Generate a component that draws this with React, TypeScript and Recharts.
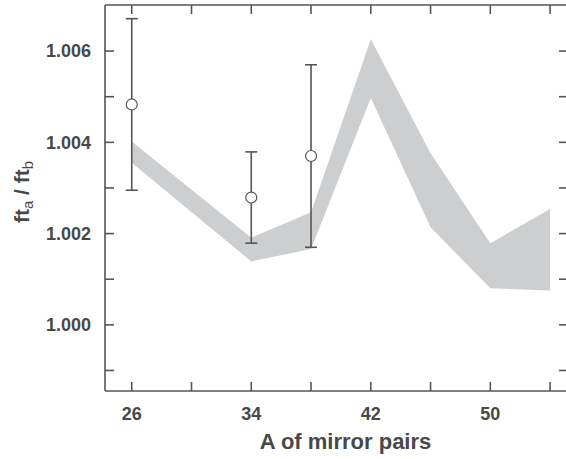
import React from "react";
import { ComposedChart, Area, Scatter, ErrorBar, XAxis, YAxis } from "recharts";

// mirror pair mass numbers where the calculated band is defined
const bandA = [26, 34, 38, 42, 46, 50, 54];
const bandLow = [1.00355, 1.00139, 1.00166, 1.00497, 1.00214, 1.0008, 1.00075];
const bandHigh = [1.00402, 1.00191, 1.00247, 1.00626, 1.00376, 1.00179, 1.00254];

// measured ratios with errors
const pointA = [26, 34, 38];
const pointValue = [1.00483, 1.00279, 1.0037];
const pointErr = [0.00188, 0.001, 0.002];

const xTicks = [26, 30, 34, 38, 42, 46, 50, 54];
const xLabelled = [26, 34, 42, 50];
const yTicks = [0.999, 1.0, 1.001, 1.002, 1.003, 1.004, 1.005, 1.006];

const bandData = bandA.map((a, i) => ({ a, band: [bandLow[i], bandHigh[i]] }));
const pointData = pointA.map((a, i) => ({ a, v: pointValue[i], err: pointErr[i] }));

const INK = "#484848";
const AXIS = "#555";
const FONT = "'Liberation Sans', Arial, sans-serif";

const xDomain = [24.21, 55.2];
const yDomain = [0.99855, 1.00701];

// plot box, same as the chart margins/axis sizes below
const W = 566;
const H = 459;
const LEFT = 105;
const TOP = 5;
const RIGHT = W + 2;
const BOTTOM = H - 68;

const tickStyle = { fill: INK, fontSize: 18, fontWeight: 700, fontFamily: FONT };
const lineStyle = { stroke: AXIS, strokeWidth: 1.6 };

function Circle(props: any) {
  return <circle cx={props.cx} cy={props.cy} r={5.5} fill="#fff" stroke={AXIS} strokeWidth={1.2} />;
}

function XTitle(props: any) {
  const vb = props.viewBox;
  return (
    <text x={vb.x + vb.width / 2 + 9} y={vb.y + 58} textAnchor="middle" fill={INK} fontSize={22} fontWeight={700} fontFamily={FONT}>
      A of mirror pairs
    </text>
  );
}

function YTitle(props: any) {
  const vb = props.viewBox;
  const cx = 29;
  const cy = vb.y + vb.height / 2 - 6;
  return (
    <text x={cx} y={cy} transform={`rotate(-90 ${cx} ${cy})`} textAnchor="middle" fill={INK} fontSize={21} fontWeight={700} fontFamily={FONT}>
      ft
      <tspan fontSize={15} fontWeight={400} dy={4}>a</tspan>
      <tspan dy={-4}> / ft</tspan>
      <tspan fontSize={15} fontWeight={400} dy={4}>b</tspan>
    </text>
  );
}

// top and right frame with inward ticks
function Frame() {
  const sx = (t: number) => LEFT + ((t - xDomain[0]) / (xDomain[1] - xDomain[0])) * (RIGHT - LEFT);
  const sy = (v: number) => TOP + ((yDomain[1] - v) / (yDomain[1] - yDomain[0])) * (BOTTOM - TOP);
  return (
    <svg width={W} height={H} style={{ position: "absolute", left: 0, top: 0, pointerEvents: "none" }}>
      <line x1={LEFT} y1={TOP} x2={RIGHT} y2={TOP} stroke={AXIS} strokeWidth={1.6} />
      <line x1={RIGHT} y1={TOP} x2={RIGHT} y2={BOTTOM} stroke={AXIS} strokeWidth={1.6} />
      {xTicks.map((t) => (
        <line key={"tx" + t} x1={sx(t)} y1={TOP} x2={sx(t)} y2={TOP + 9} stroke={AXIS} strokeWidth={1.6} />
      ))}
      {yTicks.map((t) => (
        <line key={"ty" + t} x1={RIGHT - 9} y1={sy(t)} x2={RIGHT} y2={sy(t)} stroke={AXIS} strokeWidth={1.6} />
      ))}
    </svg>
  );
}

export default function App() {
  return (
    <div style={{ position: "absolute", left: 0, top: 0, width: W, height: H, background: "#fff", overflow: "hidden" }}>
      <ComposedChart width={W} height={H} data={bandData} margin={{ top: TOP, right: W - RIGHT, bottom: 0, left: 0 }}>
        <XAxis
          dataKey="a"
          type="number"
          domain={xDomain}
          ticks={xTicks}
          allowDataOverflow
          height={68}
          tickSize={-9}
          tickMargin={25}
          axisLine={lineStyle}
          tickLine={lineStyle}
          tick={tickStyle}
          tickFormatter={(v: number) => (xLabelled.includes(v) ? String(v) : "")}
          label={<XTitle />}
        />
        <YAxis
          type="number"
          domain={yDomain}
          ticks={yTicks}
          allowDataOverflow
          width={LEFT}
          tickSize={-9}
          tickMargin={23}
          axisLine={lineStyle}
          tickLine={lineStyle}
          tick={tickStyle}
          tickFormatter={(v: number) => (Math.round(v * 1000) % 2 === 0 ? v.toFixed(3) : "")}
          label={<YTitle />}
        />
        <Area
          type="linear"
          dataKey="band"
          fill="#cdcecf"
          fillOpacity={1}
          stroke="none"
          isAnimationActive={false}
          dot={false}
          activeDot={false}
        />
        <Scatter data={pointData} dataKey="v" shape={<Circle />} isAnimationActive={false}>
          <ErrorBar dataKey="err" direction="y" width={6} stroke={AXIS} strokeWidth={1.6} isAnimationActive={false} />
        </Scatter>
      </ComposedChart>
      <Frame />
    </div>
  );
}
